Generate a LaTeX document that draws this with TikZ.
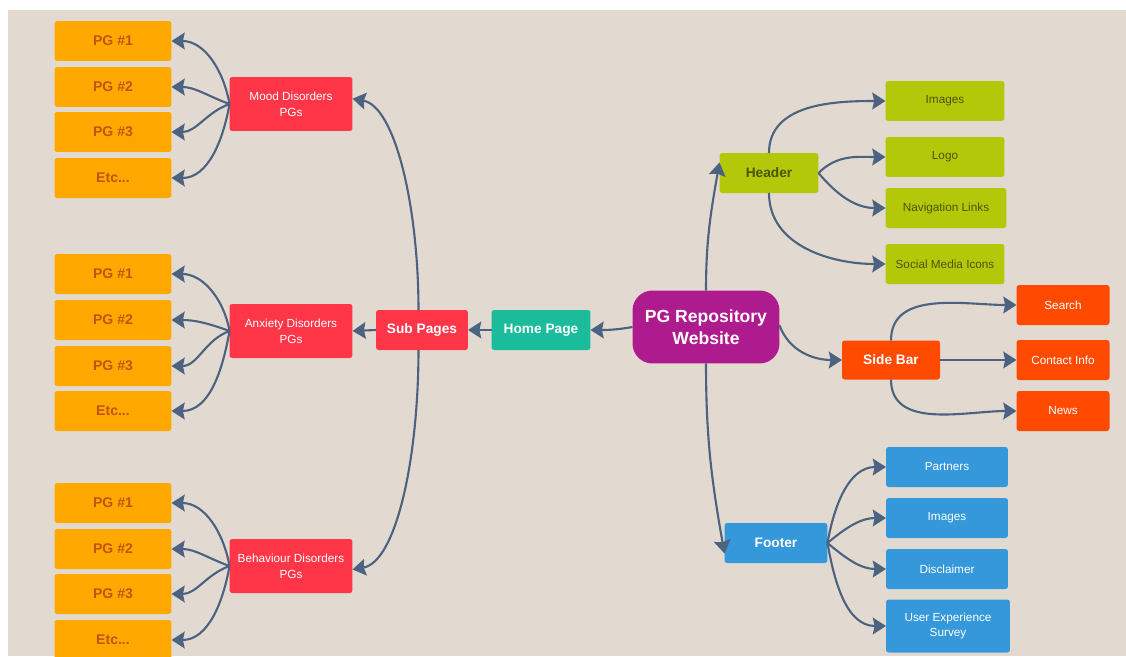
\documentclass[tikz,border=0pt]{standalone}
\usepackage{fontspec}
\setmainfont{Liberation Sans}
\usepackage{xcolor}
\usepackage{tikz}
\usetikzlibrary{arrows.meta}
\definecolor{bgbeige}{RGB}{226,218,208}
\definecolor{pgorange}{RGB}{255,168,0}
\definecolor{pgtext}{RGB}{196,84,10}
\definecolor{pgred}{RGB}{255,53,72}
\definecolor{hometeal}{RGB}{26,188,156}
\definecolor{webpurple}{RGB}{173,27,142}
\definecolor{headgreen}{RGB}{180,200,10}
\definecolor{headtext}{RGB}{74,85,0}
\definecolor{sidered}{RGB}{255,74,0}
\definecolor{footblue}{RGB}{52,152,219}
\definecolor{linkblue}{RGB}{75,98,128}

\begin{document}
\begin{tikzpicture}[x=0.02cm,y=-0.02cm,every node/.style={inner sep=1,outer sep=0,rounded corners=1.5pt,align=center},
    pgbox/.style={fill=pgorange,text=pgtext,font=\bfseries\fontsize{8}{10}\selectfont,minimum width=2.34cm,minimum height=0.8cm},
    groupbox/.style={fill=pgred,text=white,font=\fontsize{6.7}{9}\selectfont,minimum width=2.46cm,minimum height=1.08cm},
    mainbox/.style={text=white,font=\bfseries\fontsize{7.8}{10}\selectfont,minimum height=0.8cm},
    headkid/.style={fill=headgreen,text=headtext,font=\fontsize{6.7}{9}\selectfont,minimum width=2.38cm,minimum height=0.8cm},
    sidekid/.style={fill=sidered,text=white,font=\fontsize{6.7}{9}\selectfont,minimum width=1.86cm,minimum height=0.8cm},
    footkid/.style={fill=footblue,text=white,font=\fontsize{6.7}{9}\selectfont,minimum width=2.44cm,minimum height=0.8cm},
    link/.style={draw=linkblue,line width=1.2pt,-{Stealth[length=7.5pt,width=9.5pt,inset=1pt]}}]
    \useasboundingbox (0,0) rectangle (1126,656);
    \fill[bgbeige] (8,10) rectangle (1126,656);

    \node[draw=none, fill=webpurple, text=white, rounded corners=0.4cm, font=\bfseries\fontsize{10}{12.5}\selectfont, minimum width=2.94cm, minimum height=1.46cm](web) at (706,327) {PG Repository\\Website};
    \node[mainbox, fill=hometeal, minimum width=1.98cm](home) at (541,330) {Home Page}; \draw[link] (web.west) to[out=190,in=0] (home.east);
    \node[mainbox, fill=pgred, minimum width=1.84cm](sub) at (422,330) {Sub Pages}; \draw[link] (home.west) -- (sub.east);

    \node[groupbox](mood) at (291,104) {Mood Disorders\\PGs}; \draw[link] ([xshift=-2pt]sub.north) to[out=90,in=-10,out looseness=1.2,in looseness=0.5] ([yshift=3pt]mood.east);
    \node[groupbox](anx) at (291,331) {Anxiety Disorders\\PGs}; \draw[link] (sub.west) -- (anx.east);
    \node[groupbox](beh) at (291,566) {Behaviour Disorders\\PGs}; \draw[link] ([xshift=-2pt]sub.south) to[out=-90,in=10,out looseness=1.2,in looseness=0.5] ([yshift=-2pt]beh.east);

    \node[pgbox](m1) at (113,41) {PG \#1}; \draw[link] (mood.west) to[out=100,in=0] (m1.east);
    \node[pgbox](m2) at (113,87) {PG \#2}; \draw[link] (mood.west) to[out=160,in=0] (m2.east);
    \node[pgbox](m3) at (113,132) {PG \#3}; \draw[link] (mood.west) to[out=200,in=0] (m3.east);
    \node[pgbox](m4) at (113,178) {Etc...}; \draw[link] (mood.west) to[out=260,in=0] (m4.east);

    \node[pgbox](a1) at (113,274) {PG \#1}; \draw[link] (anx.west) to[out=100,in=0] (a1.east);
    \node[pgbox](a2) at (113,320) {PG \#2}; \draw[link] (anx.west) to[out=160,in=0] (a2.east);
    \node[pgbox](a3) at (113,366) {PG \#3}; \draw[link] (anx.west) to[out=200,in=0] (a3.east);
    \node[pgbox](a4) at (113,411) {Etc...}; \draw[link] (anx.west) to[out=260,in=0] (a4.east);

    \node[pgbox](b1) at (113,503) {PG \#1}; \draw[link] (beh.west) to[out=100,in=0] (b1.east);
    \node[pgbox](b2) at (113,549) {PG \#2}; \draw[link] (beh.west) to[out=160,in=0] (b2.east);
    \node[pgbox](b3) at (113,594) {PG \#3}; \draw[link] (beh.west) to[out=200,in=0] (b3.east);
    \node[pgbox](b4) at (113,640) {Etc...}; \draw[link] (beh.west) to[out=260,in=0] (b4.east);

    \node[mainbox, fill=headgreen, text=headtext, minimum width=1.98cm](head) at (769,173) {Header}; \draw[link] (web.north) to[out=90,in=-100] ([yshift=6pt]head.west);
    \node[headkid](h1) at (945,101) {Images}; \draw[link] (head.north) to[out=90,in=180] (h1.west);
    \node[headkid](h2) at (945,157) {Logo}; \draw[link] (head.east) to[out=45,in=180] (h2.west);
    \node[headkid, minimum width=2.42cm](h3) at (946,208) {Navigation Links}; \draw[link] (head.east) to[out=-50,in=180] (h3.west);
    \node[headkid](h4) at (945,264) {Social Media Icons}; \draw[link] (head.south) to[out=-90,in=180] (h4.west);

    \node[mainbox, fill=sidered, minimum width=1.96cm, minimum height=0.78cm](side) at (891,360) {Side Bar}; \draw[link] ([yshift=1pt]web.east) to[out=-70,in=180] (side.west);
    \node[sidekid](s1) at (1063,305) {Search}; \draw[link] (side.north) to[out=90,in=180] (s1.west);
    \node[sidekid](s2) at (1063,360) {Contact Info}; \draw[link] (side.east) -- (s2.west);
    \node[sidekid](s3) at (1063,411) {News}; \draw[link] (side.south) to[out=-90,in=180] (s3.west);

    \node[mainbox, fill=footblue, minimum width=2.06cm](foot) at (776,543) {Footer}; \draw[link] (web.south) to[out=-90,in=100] ([yshift=-6pt]foot.west);
    \node[footkid](f1) at (947,467) {Partners}; \draw[link] (foot.east) to[out=80,in=180] (f1.west);
    \node[footkid](f2) at (947,518) {Images}; \draw[link] (foot.east) to[out=40,in=180] (f2.west);
    \node[footkid](f3) at (947,569) {Disclaimer}; \draw[link] (foot.east) to[out=-40,in=180] (f3.west);
    \node[footkid, minimum width=2.48cm, minimum height=1.06cm](f4) at (948,626) {User Experience\\Survey}; \draw[link] (foot.east) to[out=-80,in=180] (f4.west);
\end{tikzpicture}
\end{document}
